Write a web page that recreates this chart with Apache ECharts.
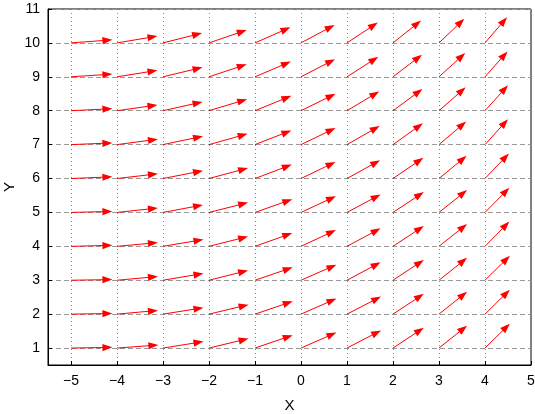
<!DOCTYPE html>
<html>
<head>
<meta charset="utf-8">
<script src="https://cdn.jsdelivr.net/npm/echarts@6/dist/echarts.min.js"></script>
<style>
  html, body { margin: 0; padding: 0; background: #fff; }
  #chart { width: 535px; height: 414px; }
</style>
</head>
<body>
<div id="chart"></div>
<script>
// arrow tails
const xStart = [-5, -4, -3, -2, -1, 0, 1, 2, 3, 4]
const yStart = [1, 2, 3, 4, 5, 6, 7, 8, 9, 10]

// arrow components (data units), one row per y
const uRows = [
  [0.90, 0.90, 0.88, 0.86, 0.82, 0.77, 0.74, 0.67, 0.61, 0.54],
  [0.90, 0.89, 0.88, 0.86, 0.82, 0.77, 0.74, 0.67, 0.61, 0.54],
  [0.90, 0.89, 0.88, 0.85, 0.82, 0.77, 0.73, 0.67, 0.61, 0.54],
  [0.90, 0.89, 0.88, 0.85, 0.81, 0.76, 0.73, 0.67, 0.61, 0.53],
  [0.90, 0.89, 0.87, 0.85, 0.81, 0.76, 0.73, 0.67, 0.61, 0.53],
  [0.90, 0.89, 0.87, 0.85, 0.80, 0.75, 0.72, 0.66, 0.60, 0.52],
  [0.90, 0.89, 0.87, 0.84, 0.79, 0.75, 0.71, 0.65, 0.59, 0.50],
  [0.90, 0.88, 0.86, 0.83, 0.79, 0.75, 0.70, 0.64, 0.58, 0.50],
  [0.90, 0.88, 0.86, 0.82, 0.78, 0.74, 0.68, 0.63, 0.57, 0.49],
  [0.90, 0.88, 0.85, 0.82, 0.77, 0.73, 0.67, 0.61, 0.55, 0.48]
]
const vRows = [
  [0.02, 0.09, 0.19, 0.28, 0.38, 0.46, 0.52, 0.60, 0.66, 0.72],
  [0.02, 0.11, 0.19, 0.28, 0.38, 0.46, 0.52, 0.60, 0.66, 0.72],
  [0.02, 0.11, 0.20, 0.29, 0.38, 0.46, 0.53, 0.60, 0.66, 0.72],
  [0.03, 0.11, 0.20, 0.29, 0.39, 0.48, 0.53, 0.60, 0.66, 0.73],
  [0.03, 0.13, 0.22, 0.29, 0.39, 0.48, 0.53, 0.60, 0.66, 0.73],
  [0.05, 0.14, 0.23, 0.31, 0.41, 0.49, 0.54, 0.61, 0.67, 0.74],
  [0.05, 0.16, 0.25, 0.32, 0.42, 0.49, 0.55, 0.63, 0.68, 0.75],
  [0.06, 0.17, 0.26, 0.34, 0.44, 0.50, 0.57, 0.64, 0.69, 0.75],
  [0.08, 0.19, 0.28, 0.37, 0.45, 0.52, 0.59, 0.65, 0.70, 0.75],
  [0.09, 0.20, 0.29, 0.38, 0.46, 0.53, 0.60, 0.66, 0.71, 0.76]
]

const arrows = []
yStart.forEach((y, i) => {
  xStart.forEach((x, j) => {
    arrows.push([x, y, uRows[i][j], vRows[i][j]])
  })
})

const fontFamily = '"Liberation Sans", Arial, sans-serif'
const fmt = v => {
  if (Math.abs(v - Math.round(v)) > 1e-6) return ''
  return v < 0 ? '\u2212' + Math.abs(v) : String(v)
}

const chart = echarts.init(document.getElementById('chart'))
chart.setOption({
  backgroundColor: '#fff',
  animation: false,
  grid: {
    left: 48, right: 4, top: 9, bottom: 49,
    containLabel: false,
    outerBoundsMode: 'none',
    show: true, borderColor: '#000', borderWidth: 1
  },
  xAxis: {
    type: 'value',
    min: -5.5, max: 5,
    splitNumber: 10,
    name: 'X',
    nameLocation: 'middle',
    nameGap: 33,
    nameMoveOverlap: false,
    nameTextStyle: { color: '#000', fontSize: 15, fontFamily },
    axisLine: { onZero: false, lineStyle: { color: '#000', width: 1 } },
    axisTick: { inside: true, length: 4, lineStyle: { color: '#000' } },
    axisLabel: { color: '#000', fontSize: 14, fontFamily, margin: 9, formatter: fmt },
    splitLine: { show: true, lineStyle: { color: '#888', type: [1, 3], width: 1 } }
  },
  yAxis: {
    type: 'value',
    min: 0.5, max: 11,
    splitNumber: 10,
    name: 'Y',
    nameLocation: 'middle',
    nameGap: 31,
    nameMoveOverlap: false,
    nameTextStyle: { color: '#000', fontSize: 15, fontFamily },
    axisLine: { onZero: false, lineStyle: { color: '#000', width: 1 } },
    axisTick: { inside: true, length: 4, lineStyle: { color: '#000' } },
    axisLabel: { color: '#000', fontSize: 14, fontFamily, margin: 8, formatter: fmt },
    splitLine: { show: true, lineStyle: { color: '#999', type: [5, 3], width: 1 } }
  },
  series: [{
    type: 'custom',
    clip: false,
    dimensions: ['x', 'y', 'u', 'v'],
    encode: { x: 0, y: 1 },
    data: arrows,
    renderItem: (params, api) => {
      const x = api.value(0)
      const y = api.value(1)
      const p0 = api.coord([x, y])
      const p1 = api.coord([x + api.value(2), y + api.value(3)])
      const dx = p1[0] - p0[0]
      const dy = p1[1] - p0[1]
      const len = Math.sqrt(dx * dx + dy * dy)
      const ux = dx / len
      const uy = dy / len
      const hl = 10
      const hw = 3.6
      const bx = p1[0] - ux * hl
      const by = p1[1] - uy * hl
      return {
        type: 'group',
        children: [
          {
            type: 'line',
            shape: { x1: p0[0], y1: p0[1], x2: bx + ux * 2, y2: by + uy * 2 },
            style: { stroke: '#ff0000', lineWidth: 1 }
          },
          {
            type: 'polygon',
            shape: { points: [[p1[0], p1[1]], [bx - uy * hw, by + ux * hw], [bx + uy * hw, by - ux * hw]] },
            style: { fill: '#ff0000' }
          }
        ]
      }
    }
  }]
})
</script>
</body>
</html>
